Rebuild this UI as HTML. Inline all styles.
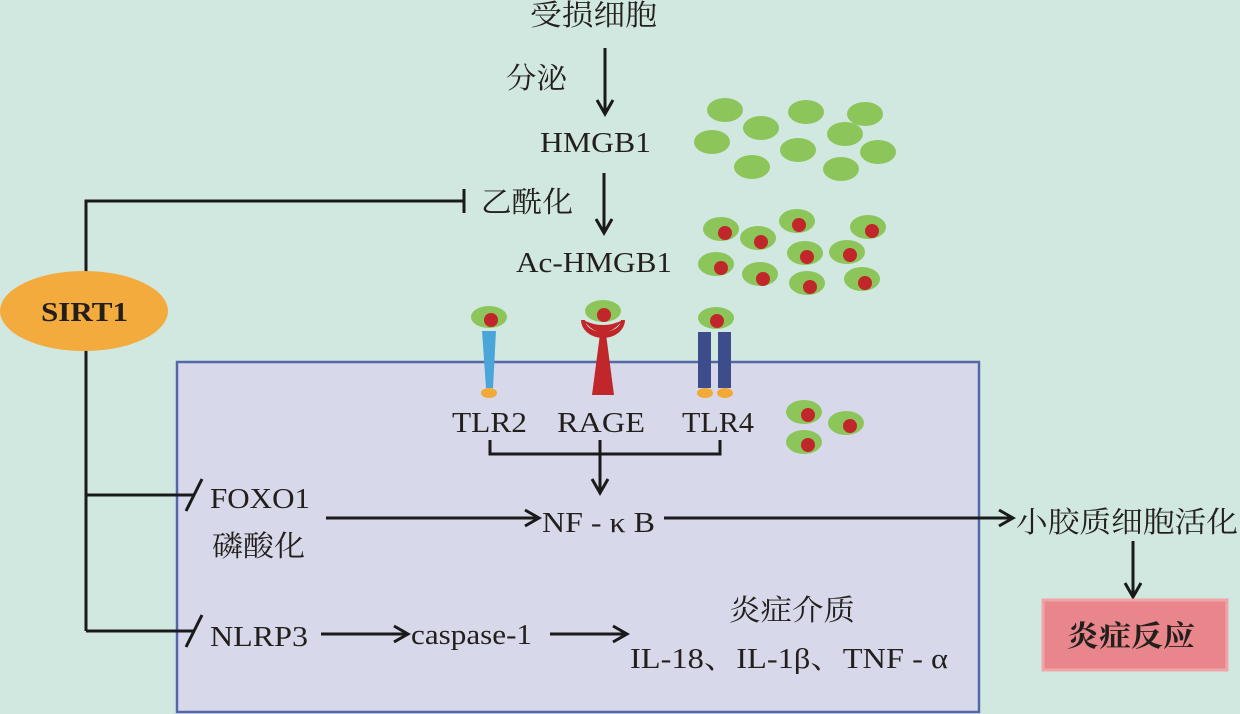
<!DOCTYPE html>
<html><head><meta charset="utf-8"><style>
html,body{margin:0;padding:0;background:#d1e8e0;}
svg{display:block}
text{font-family:"Liberation Serif","Noto Serif CJK SC",serif;fill:#231f1c;}
</style></head><body>
<svg width="1240" height="714" viewBox="0 0 1240 714" xmlns="http://www.w3.org/2000/svg">
<defs>
<marker id="ar" markerWidth="20" markerHeight="20" refX="17" refY="10" orient="auto" markerUnits="userSpaceOnUse">
<path d="M3,2 L17,10 L3,18" fill="none" stroke="#1a1a1a" stroke-width="3"/>
</marker>
</defs>
<rect width="1240" height="714" fill="#d1e8e0"/>
<rect x="177" y="362" width="802" height="350" fill="#d7d8ea" stroke="#5468a8" stroke-width="2.5"/>

<g fill="#8cc65a">
<ellipse cx="725" cy="110" rx="18" ry="12"/><ellipse cx="761" cy="128" rx="18" ry="12"/>
<ellipse cx="806" cy="112" rx="18" ry="12"/><ellipse cx="865" cy="114" rx="18" ry="12"/>
<ellipse cx="712" cy="142" rx="18" ry="12"/><ellipse cx="845" cy="134" rx="18" ry="12"/>
<ellipse cx="798" cy="150" rx="18" ry="12"/><ellipse cx="878" cy="152" rx="18" ry="12"/>
<ellipse cx="752" cy="167" rx="18" ry="12"/><ellipse cx="841" cy="169" rx="18" ry="12"/>
<ellipse cx="721" cy="229" rx="18" ry="12"/><ellipse cx="758" cy="238" rx="18" ry="12"/>
<ellipse cx="797" cy="221" rx="18" ry="12"/><ellipse cx="868" cy="227" rx="18" ry="12"/>
<ellipse cx="805" cy="253" rx="18" ry="12"/><ellipse cx="847" cy="252" rx="18" ry="12"/>
<ellipse cx="716" cy="264" rx="18" ry="12"/><ellipse cx="760" cy="274" rx="18" ry="12"/>
<ellipse cx="807" cy="283" rx="18" ry="12"/><ellipse cx="862" cy="279" rx="18" ry="12"/>
<ellipse cx="804" cy="412" rx="18" ry="12"/><ellipse cx="846" cy="423" rx="18" ry="12"/>
<ellipse cx="804" cy="442" rx="18" ry="12"/>
<ellipse cx="489" cy="317" rx="18" ry="11"/><ellipse cx="603" cy="311" rx="18" ry="11"/>
<ellipse cx="716" cy="318" rx="18" ry="11"/>
</g>
<g fill="#c0262a">
<circle cx="725" cy="233" r="7"/><circle cx="761" cy="242" r="7"/><circle cx="799" cy="225" r="7"/>
<circle cx="872" cy="231" r="7"/><circle cx="807" cy="257" r="7"/><circle cx="850" cy="255" r="7"/>
<circle cx="721" cy="268" r="7"/><circle cx="763" cy="279" r="7"/><circle cx="810" cy="287" r="7"/>
<circle cx="865" cy="283" r="7"/><circle cx="808" cy="415" r="7"/><circle cx="850" cy="426" r="7"/>
<circle cx="808" cy="445" r="7"/>
<circle cx="491" cy="320" r="7"/><circle cx="604" cy="315" r="7"/><circle cx="717" cy="321" r="7"/>
</g>
<polygon points="482,331 496,331 493,388 486,388" fill="#4aa6d8"/>
<ellipse cx="489" cy="393" rx="8" ry="5" fill="#f2a935"/>
<path d="M581,320 A22,18 0 0 0 625,320 L621,320 A18,12 0 0 1 585,320 Z" fill="#c0262a"/>
<path d="M583,320 Q603,345 623,320 Q603,330 583,320Z" fill="#c0262a"/>
<polygon points="600,334 606,334 614,395 592,395" fill="#c0262a"/>
<rect x="698" y="332" width="13" height="56" fill="#3d4d8c"/>
<rect x="718" y="332" width="13" height="56" fill="#3d4d8c"/>
<ellipse cx="705" cy="393" rx="8" ry="5" fill="#f2a935"/>
<ellipse cx="725" cy="393" rx="8" ry="5" fill="#f2a935"/>

<g stroke="#1a1a1a" stroke-width="3" fill="none">
<line x1="605" y1="48" x2="605" y2="114" marker-end="url(#ar)"/>
<line x1="604" y1="173" x2="604" y2="233" marker-end="url(#ar)"/>
<polyline points="86,272 86,201 464,201"/>
<line x1="464" y1="189" x2="464" y2="213"/>
<line x1="86" y1="351" x2="86" y2="631"/>
<line x1="86" y1="495" x2="194" y2="495"/>
<line x1="186" y1="511" x2="202" y2="479"/>
<line x1="86" y1="631" x2="194" y2="631"/>
<line x1="186" y1="647" x2="202" y2="615"/>
<polyline points="490,440 490,454 720,454 720,440"/>
<line x1="600" y1="440" x2="600" y2="493" marker-end="url(#ar)"/>
<line x1="326" y1="518" x2="539" y2="518" marker-end="url(#ar)"/>
<line x1="664" y1="518" x2="1013" y2="518" marker-end="url(#ar)"/>
<line x1="1133" y1="541" x2="1133" y2="597" marker-end="url(#ar)"/>
<line x1="321" y1="634" x2="408" y2="634" marker-end="url(#ar)"/>
<line x1="550" y1="634" x2="627" y2="634" marker-end="url(#ar)"/>
</g>

<ellipse cx="84" cy="311" rx="84" ry="40" fill="#f2ab3c"/>
<text x="41" y="321" font-size="27" font-weight="bold" textLength="87" lengthAdjust="spacingAndGlyphs">SIRT1</text>

<rect x="1043" y="600" width="184" height="70" fill="#e8868c" stroke="#f0a6a8" stroke-width="3"/>
<text x="1067" y="646" font-size="29" font-weight="bold" textLength="128" lengthAdjust="spacingAndGlyphs">炎症反应</text>

<g font-size="29">
<text x="530" y="25" textLength="127" lengthAdjust="spacingAndGlyphs">受损细胞</text>
<text x="506" y="88" textLength="61" lengthAdjust="spacingAndGlyphs">分泌</text>
<text x="540" y="152" textLength="111" lengthAdjust="spacingAndGlyphs">HMGB1</text>
<text x="481" y="212" textLength="92" lengthAdjust="spacingAndGlyphs">乙酰化</text>
<text x="516" y="272" textLength="156" lengthAdjust="spacingAndGlyphs">Ac-HMGB1</text>
<text x="452" y="432" textLength="75" lengthAdjust="spacingAndGlyphs">TLR2</text>
<text x="557" y="432" textLength="88" lengthAdjust="spacingAndGlyphs">RAGE</text>
<text x="682" y="432" textLength="72" lengthAdjust="spacingAndGlyphs">TLR4</text>
<text x="210" y="508" textLength="100" lengthAdjust="spacingAndGlyphs">FOXO1</text>
<text x="212" y="556" textLength="93" lengthAdjust="spacingAndGlyphs">磷酸化</text>
<text x="210" y="646" textLength="98" lengthAdjust="spacingAndGlyphs">NLRP3</text>
<text x="542" y="532" textLength="113" lengthAdjust="spacingAndGlyphs">NF - κ B</text>
<text x="1016" y="532" textLength="222" lengthAdjust="spacingAndGlyphs">小胶质细胞活化</text>
<text x="411" y="644" textLength="121" lengthAdjust="spacingAndGlyphs">caspase-1</text>
<text x="729" y="620" textLength="126" lengthAdjust="spacingAndGlyphs">炎症介质</text>
<text x="630" y="668" textLength="318" lengthAdjust="spacingAndGlyphs">IL-18、IL-1β、TNF - α</text>
</g>
</svg>
</body></html>
